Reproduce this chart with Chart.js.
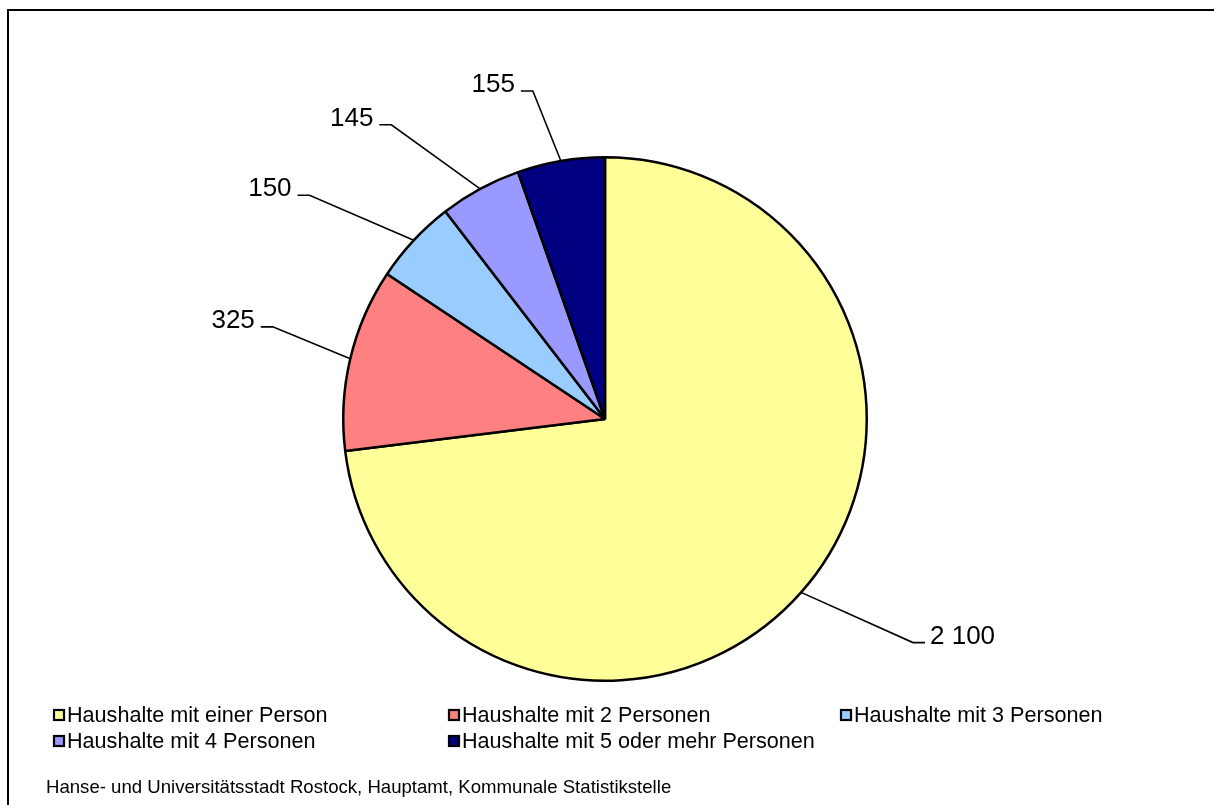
<!DOCTYPE html>
<html>
<head>
<meta charset="utf-8">
<script src="https://cdn.jsdelivr.net/npm/chart.js@4.4.0/dist/chart.umd.min.js"></script>
<style>
  html, body { margin: 0; padding: 0; background: #fff; overflow: hidden; }
  #wrap { position: relative; width: 1214px; height: 805px; overflow: hidden; }
  #rahmen { position: absolute; left: 7px; top: 9px; width: 1260px; height: 860px; border: 2px solid #000; }
  canvas { position: absolute; left: 0; top: 0; }
</style>
</head>
<body>
<div id="wrap">
  <div id="rahmen"></div>
  <canvas id="myChart" width="1214" height="805"></canvas>
</div>
<script>
// Daten
const KATEGORIEN = [
    'Haushalte mit einer Person',
    'Haushalte mit 2 Personen',
    'Haushalte mit 3 Personen',
    'Haushalte mit 4 Personen',
    'Haushalte mit 5 oder mehr Personen'
];
const HAUSHALTE = [2100, 325, 150, 145, 155];
const FARBEN = ['#FFFF99', '#FF8080', '#99CCFF', '#9999FF', '#000080'];
const QUELLE = 'Hanse- und Universitätsstadt Rostock, Hauptamt, Kommunale Statistikstelle';

const SCHRIFT = '"Liberation Sans", Arial, sans-serif';

function formatZahl(v) {
    // 2100 -> "2 100"
    return String(v).replace(/\B(?=(\d{3})+(?!\d))/g, ' ');
}

// Werte mit Fuehrungslinien aussen am Kreis
const beschriftung = {
    id: 'beschriftung',
    afterDatasetsDraw(chart, args, opts) {
        const ctx = chart.ctx;
        const meta = chart.getDatasetMeta(0);
        const werte = chart.data.datasets[0].data;
        ctx.save();
        ctx.strokeStyle = '#000';
        ctx.fillStyle = '#000';
        ctx.lineWidth = 1.6;
        ctx.font = '26px ' + SCHRIFT;
        ctx.textBaseline = 'alphabetic';
        meta.data.forEach((arc, i) => {
            const p = arc.getProps(['x', 'y', 'startAngle', 'endAngle', 'outerRadius'], true);
            const mitte = (p.startAngle + p.endAngle) / 2;
            const x0 = p.x + Math.cos(mitte) * p.outerRadius;
            const y0 = p.y + Math.sin(mitte) * p.outerRadius;
            // Knickpunkt etwas vom Kreis abgesetzt (wie im Original verschoben)
            const w = mitte + (opts.winkel[i] || 0) * Math.PI / 180;
            const r1 = p.outerRadius * (opts.abstand[i] || 1.37);
            const x1 = p.x + Math.cos(w) * r1;
            const y1 = p.y + Math.sin(w) * r1;
            const rechts = Math.cos(w) >= 0;
            const x2 = x1 + (rechts ? 12 : -12);
            ctx.beginPath();
            ctx.moveTo(x0, y0);
            ctx.lineTo(x1, y1);
            ctx.lineTo(x2, y1);
            ctx.stroke();
            ctx.textAlign = rechts ? 'left' : 'right';
            ctx.fillText(formatZahl(werte[i]), x2 + (rechts ? 5 : -6), y1 + 1);
        });
        ctx.restore();
    }
};

// Legende in drei Spalten und Quellenangabe
const legendeUndQuelle = {
    id: 'legendeUndQuelle',
    afterDraw(chart, args, opts) {
        const ctx = chart.ctx;
        const farben = chart.data.datasets[0].backgroundColor;
        ctx.save();
        ctx.font = '21.6px ' + SCHRIFT;
        ctx.textBaseline = 'middle';
        ctx.textAlign = 'left';
        chart.data.labels.forEach((label, i) => {
            const x = opts.spalten[i % 3];
            const y = opts.zeilen[Math.floor(i / 3)];
            ctx.fillStyle = farben[i];
            ctx.fillRect(x, y - 5, 10, 10);
            ctx.strokeStyle = '#000';
            ctx.lineWidth = 2.2;
            ctx.strokeRect(x, y - 5, 10, 10);
            ctx.fillStyle = '#000';
            ctx.fillText(label, x + 13, y + 1);
        });
        ctx.font = '18.6px ' + SCHRIFT;
        ctx.fillStyle = '#000';
        ctx.fillText(QUELLE, 46, 788);
        ctx.restore();
    }
};

var ctx = document.getElementById('myChart').getContext('2d');

var myChart = new Chart(ctx, {
    type: 'pie',
    data: {
        labels: KATEGORIEN,
        datasets: [{
            data: HAUSHALTE,
            backgroundColor: FARBEN,
            borderColor: '#000',
            borderWidth: 2.5
        }]
    },
    options: {
        responsive: false,
        animation: false,
        layout: {
            padding: { top: 156, bottom: 123, left: 0, right: 4 }
        },
        plugins: {
            legend: { display: false },
            tooltip: { enabled: false },
            beschriftung: {
                winkel: [-5.5, 2.2, -5.9, -7.5, -2.7],
                abstand: [1.454, 1.317, 1.416, 1.389, 1.283]
            },
            legendeUndQuelle: {
                spalten: [54, 449, 841],
                zeilen: [715, 741]
            }
        }
    },
    plugins: [beschriftung, legendeUndQuelle]
});
</script>
</body>
</html>
